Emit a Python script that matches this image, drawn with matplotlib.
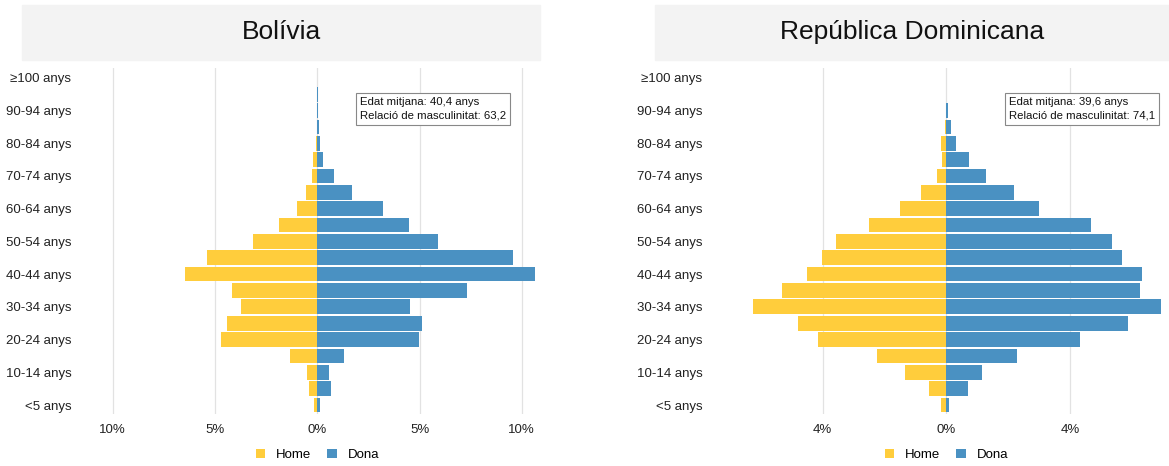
"""
population pyramids: Bolívia and República Dominicana
"""
import matplotlib.pyplot as plt
from matplotlib.patches import Rectangle

plt.rcParams['font.family'] = ['Liberation Sans', 'DejaVu Sans']

W, H = 1169, 466

ages = ['<5 anys', '5-9 anys', '10-14 anys', '15-19 anys', '20-24 anys', '25-29 anys',
        '30-34 anys', '35-39 anys', '40-44 anys', '45-49 anys', '50-54 anys', '55-59 anys',
        '60-64 anys', '65-69 anys', '70-74 anys', '75-79 anys', '80-84 anys', '85-89 anys',
        '90-94 anys', '95-99 anys', '≥100 anys']

# percentages, youngest first
bol_home = [0.15, 0.42, 0.52, 1.32, 4.71, 4.40, 3.72, 4.19, 6.45, 5.41, 3.16,
            1.86, 0.99, 0.57, 0.26, 0.21, 0.08, 0.01, 0.01, 0.0, 0.0]
bol_dona = [0.13, 0.65, 0.59, 1.30, 4.99, 5.13, 4.55, 7.30, 10.63, 9.55, 5.90,
            4.50, 3.19, 1.70, 0.83, 0.29, 0.11, 0.08, 0.02, 0.01, 0.0]
dom_home = [0.16, 0.57, 1.35, 2.24, 4.14, 4.79, 6.26, 5.32, 4.51, 4.02, 3.56,
            2.49, 1.51, 0.81, 0.30, 0.13, 0.16, 0.04, 0.01, 0.0, 0.0]
dom_dona = [0.10, 0.71, 1.17, 2.28, 4.34, 5.88, 6.96, 6.28, 6.32, 5.69, 5.35,
            4.69, 2.99, 2.20, 1.28, 0.72, 0.32, 0.15, 0.05, 0.0, 0.0]

panels = [
    dict(title='Bolívia', home=bol_home, dona=bol_dona,
         info='Edat mitjana: 40,4 anys\nRelació de masculinitat: 63,2',
         ticks=[-10, -5, 0, 5, 10],
         px=(77, 540), zero=317.3, scale=20.45, strip=(22, 540), box=(360, 97)),
    dict(title='República Dominicana', home=dom_home, dona=dom_dona,
         info='Edat mitjana: 39,6 anys\nRelació de masculinitat: 74,1',
         ticks=[-4, 0, 4],
         px=(708, 1166), zero=946.3, scale=30.9, strip=(655, 1169), box=(1009, 97)),
]

YELLOW = '#ffcd3c'
BLUE = '#4a91c2'

fig = plt.figure(figsize=(W / 100, H / 100), dpi=100)
top, bottom = 68, 414

for p in panels:
    x0, x1 = p['px']
    ax = fig.add_axes([x0 / W, 1 - bottom / H, (x1 - x0) / W, (bottom - top) / H])
    y = list(range(len(ages)))
    ax.barh(y, [-v for v in p['home']], height=0.9, color=YELLOW, label='Home')
    ax.barh(y, p['dona'], height=0.9, color=BLUE, label='Dona')
    ax.set_xlim((x0 - p['zero']) / p['scale'], (x1 - p['zero']) / p['scale'])
    ax.set_ylim(-0.55, 20.6)
    ax.set_xticks(p['ticks'])
    ax.set_xticklabels([f'{abs(t)}%' for t in p['ticks']], fontsize=9.5, color='#222222')
    ax.set_yticks(y[::2])
    ax.set_yticklabels(ages[::2], fontsize=9.5, color='#222222')
    ax.tick_params(length=0, pad=4)
    ax.tick_params(axis='x', pad=7)
    ax.grid(axis='x', color='#e2e2e2', lw=0.9)
    ax.set_axisbelow(True)
    for s in ax.spines.values():
        s.set_visible(False)

    # grey title strip
    sx0, sx1 = p['strip']
    fig.patches.append(Rectangle((sx0 / W, 1 - 60 / H), (sx1 - sx0) / W, 55 / H,
                                 transform=fig.transFigure, color='#f3f3f3', zorder=0))
    fig.text((sx0 + sx1) / 2 / W, 1 - 32 / H, p['title'], ha='center', va='center',
             fontsize=19, color='#111111')

    bx, by = p['box']
    fig.text(bx / W, 1 - by / H, p['info'], ha='left', va='top', fontsize=8.2,
             linespacing=1.45, color='#111111',
             bbox=dict(boxstyle='square,pad=0.35', fc='white', ec='#888888', lw=0.8))

    handles, labels = ax.get_legend_handles_labels()
    fig.legend(handles, labels, loc='center', ncol=2, frameon=False, fontsize=9.5,
               bbox_to_anchor=(p['zero'] / W, 1 - 455 / H), handlelength=0.75,
               handleheight=0.75, handletextpad=0.8, columnspacing=1.2)

plt.savefig('out.png', dpi=100)
